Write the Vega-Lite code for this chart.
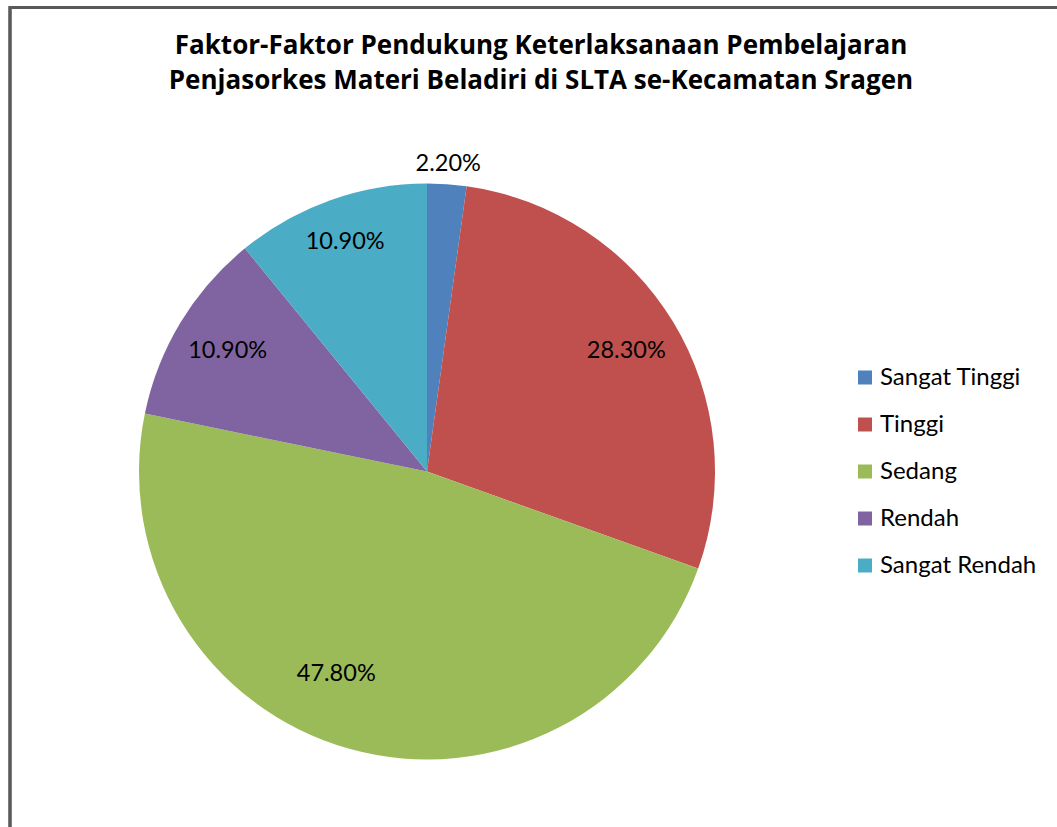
{
  "$schema": "https://vega.github.io/schema/vega-lite/v6.json",
  "width": 1062,
  "height": 930,
  "autosize": {"type": "none"},
  "padding": {"left": 10, "top": 7.5, "right": 0, "bottom": 0},
  "background": "white",
  "title": {
    "text": ["Faktor-Faktor Pendukung Keterlaksanaan Pembelajaran", "Penjasorkes Materi Beladiri di SLTA se-Kecamatan Sragen"],
    "font": "Open Sans",
    "fontSize": 26,
    "fontWeight": "bold",
    "color": "black",
    "anchor": "middle",
    "baseline": "top",
    "offset": -28,
    "dy": 60,
    "lineHeight": 35
  },
  "config": {"view": {"stroke": "#5a5a5a", "strokeWidth": 2.5}},
  "data": {
    "values": [
      {"cat": "Sangat Tinggi", "pct": 0.022, "rank": 1},
      {"cat": "Tinggi", "pct": 0.283, "rank": 2},
      {"cat": "Sedang", "pct": 0.478, "rank": 3},
      {"cat": "Rendah", "pct": 0.109, "rank": 4},
      {"cat": "Sangat Rendah", "pct": 0.109, "rank": 5}
    ]
  },
  "layer": [
    {
      "mark": {"type": "rect", "filled": false, "stroke": "#5a5a5a", "strokeWidth": 2.5},
      "encoding": {}
    },
    {
      "mark": {"type": "arc", "radius": 288, "xOffset": -114, "yOffset": -1},
      "encoding": {
        "theta": {"field": "pct", "type": "quantitative", "stack": true},
        "order": {"field": "rank", "type": "quantitative"},
        "color": {
          "field": "cat",
          "type": "nominal",
          "scale": {
            "domain": ["Sangat Tinggi", "Tinggi", "Sedang", "Rendah", "Sangat Rendah"],
            "range": ["#4F81BD", "#C0504D", "#9BBB59", "#8064A2", "#4BACC6"]
          },
          "legend": {
            "orient": "none",
            "legendX": 843,
            "legendY": 358,
            "title": null,
            "symbolType": "square",
            "symbolSize": 196,
            "symbolStrokeWidth": 0,
            "labelFont": "Lato",
            "labelFontSize": 24,
            "labelColor": "black",
            "labelOffset": 3,
            "rowPadding": 23,
            "labelLimit": 300
          }
        }
      }
    },
    {
      "mark": {"type": "text", "radius": 308, "xOffset": -114, "yOffset": -1, "font": "Lato", "fontSize": 23.5, "color": "black"},
      "encoding": {
        "theta": {"field": "pct", "type": "quantitative", "stack": true},
        "order": {"field": "rank", "type": "quantitative"},
        "detail": {"field": "cat"},
        "text": {"field": "pct", "format": ".2%"},
        "opacity": {"condition": {"test": "datum.cat === 'Sangat Tinggi'", "value": 1}, "value": 0}
      }
    },
    {
      "mark": {"type": "text", "radius": 233, "xOffset": -114, "yOffset": -1, "font": "Lato", "fontSize": 23.5, "color": "black"},
      "encoding": {
        "theta": {"field": "pct", "type": "quantitative", "stack": true},
        "order": {"field": "rank", "type": "quantitative"},
        "detail": {"field": "cat"},
        "text": {"field": "pct", "format": ".2%"},
        "opacity": {"condition": {"test": "datum.cat === 'Tinggi' || datum.cat === 'Rendah'", "value": 1}, "value": 0}
      }
    },
    {
      "mark": {"type": "text", "radius": 244, "xOffset": -114, "yOffset": -1, "font": "Lato", "fontSize": 23.5, "color": "black"},
      "encoding": {
        "theta": {"field": "pct", "type": "quantitative", "stack": true},
        "order": {"field": "rank", "type": "quantitative"},
        "detail": {"field": "cat"},
        "text": {"field": "pct", "format": ".2%"},
        "opacity": {"condition": {"test": "datum.cat === 'Sangat Rendah'", "value": 1}, "value": 0}
      }
    },
    {
      "mark": {"type": "text", "radius": 222, "thetaOffset": 0.148, "xOffset": -114, "yOffset": -1, "font": "Lato", "fontSize": 23.5, "color": "black"},
      "encoding": {
        "theta": {"field": "pct", "type": "quantitative", "stack": true},
        "order": {"field": "rank", "type": "quantitative"},
        "detail": {"field": "cat"},
        "text": {"field": "pct", "format": ".2%"},
        "opacity": {"condition": {"test": "datum.cat === 'Sedang'", "value": 1}, "value": 0}
      }
    }
  ]
}
